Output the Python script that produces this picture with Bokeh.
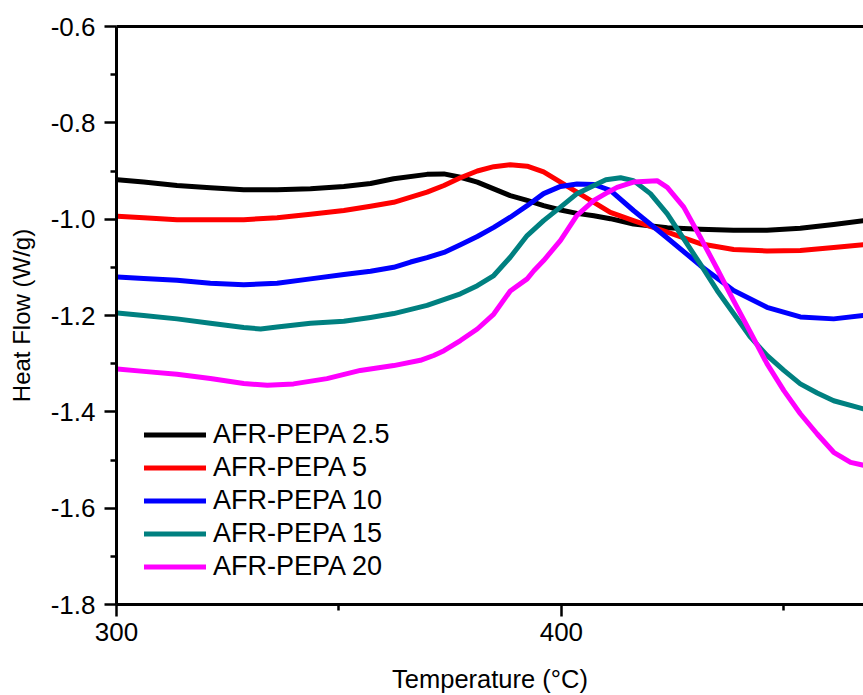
from bokeh.plotting import figure
from bokeh.models import Legend, LegendItem, LinearAxis, FixedTicker, PrintfTickFormatter, Range1d
from bokeh.embed import file_html
from bokeh.resources import INLINE

# ---- data ----
t_25 = [300.2, 306.1, 313.6, 321.1, 328.6, 336.1, 343.6, 351.1, 357.1, 362.3, 369.8, 373.6, 377.3, 381.1, 384.8,
        388.5, 392.3, 396.0, 399.8, 403.5, 407.3, 411.0, 416.2, 423.8, 431.2, 438.7, 446.2, 453.7, 461.2, 467.9]
hf_25 = [-0.918, -0.923, -0.930, -0.935, -0.939, -0.939, -0.937, -0.932, -0.926, -0.916, -0.907, -0.906, -0.913,
         -0.923, -0.937, -0.951, -0.961, -0.972, -0.981, -0.988, -0.993, -0.999, -1.010, -1.018, -1.021, -1.023,
         -1.023, -1.019, -1.011, -1.003]

t_5 = [300.2, 306.1, 313.6, 321.1, 328.6, 336.1, 343.6, 351.1, 357.1, 362.3, 369.8, 373.6, 377.3, 381.1, 384.8,
       388.5, 392.3, 396.0, 399.8, 403.5, 407.3, 411.0, 416.2, 423.8, 431.2, 438.7, 446.2, 453.7, 461.2, 467.9]
hf_5 = [-0.994, -0.997, -1.001, -1.001, -1.001, -0.997, -0.990, -0.982, -0.973, -0.965, -0.944, -0.930, -0.914,
        -0.900, -0.891, -0.887, -0.890, -0.902, -0.923, -0.944, -0.965, -0.986, -1.003, -1.027, -1.051, -1.063,
        -1.066, -1.065, -1.059, -1.053]

t_10 = [300.2, 306.1, 313.6, 321.1, 328.6, 336.1, 343.6, 351.1, 357.1, 362.3, 366.1, 369.8, 373.6, 377.3, 381.1,
        384.8, 388.5, 392.3, 396.0, 399.8, 403.5, 407.3, 411.0, 416.2, 423.8, 431.2, 438.7, 446.2, 453.7, 461.2, 467.9]
hf_10 = [-1.120, -1.123, -1.127, -1.133, -1.136, -1.133, -1.124, -1.115, -1.108, -1.100, -1.089, -1.080, -1.069,
         -1.053, -1.036, -1.017, -0.996, -0.972, -0.947, -0.932, -0.927, -0.928, -0.940, -0.982, -1.039, -1.096,
         -1.148, -1.183, -1.203, -1.207, -1.200]

t_15 = [300.2, 306.1, 313.6, 321.1, 328.6, 332.4, 336.1, 343.6, 351.1, 357.1, 362.3, 369.8, 377.3, 381.1, 384.8,
        388.5, 392.3, 396.0, 399.8, 403.5, 407.3, 410.0, 413.3, 416.2, 420.0, 423.8, 427.5, 431.2, 435.0, 438.7,
        442.5, 446.2, 450.0, 453.7, 457.5, 461.2, 467.9]
hf_15 = [-1.195, -1.200, -1.207, -1.216, -1.225, -1.228, -1.224, -1.216, -1.212, -1.204, -1.196, -1.179, -1.155,
         -1.138, -1.117, -1.079, -1.034, -1.003, -0.975, -0.947, -0.930, -0.918, -0.914, -0.920, -0.947, -0.989,
         -1.041, -1.093, -1.148, -1.196, -1.245, -1.283, -1.314, -1.342, -1.361, -1.377, -1.394]

t_20 = [300.2, 306.1, 313.6, 321.1, 328.6, 333.9, 339.8, 347.3, 354.8, 362.3, 368.3, 371.3, 373.6, 377.3, 381.1,
        384.8, 388.5, 392.3, 393.8, 396.0, 399.8, 403.5, 407.3, 410.5, 412.5, 416.2, 421.5, 423.8, 427.5, 431.2,
        435.0, 438.7, 442.5, 446.2, 450.0, 453.7, 457.5, 461.2, 465.0, 467.9]
hf_20 = [-1.311, -1.316, -1.322, -1.331, -1.341, -1.345, -1.342, -1.331, -1.314, -1.304, -1.293, -1.283, -1.273,
         -1.252, -1.228, -1.197, -1.149, -1.124, -1.107, -1.086, -1.044, -0.992, -0.961, -0.944, -0.934, -0.923,
         -0.920, -0.934, -0.975, -1.037, -1.103, -1.169, -1.235, -1.300, -1.356, -1.404, -1.446, -1.484, -1.505,
         -1.511]

labels = ["AFR-PEPA 2.5", "AFR-PEPA 5", "AFR-PEPA 10", "AFR-PEPA 15", "AFR-PEPA 20"]
colors = ["#000000", "#ff0000", "#0000ff", "#008080", "#ff00ff"]
xs = [t_25, t_5, t_10, t_15, t_20]
ys = [hf_25, hf_5, hf_10, hf_15, hf_20]

x_ticks = [300, 400]
x_minor = [350, 450]
y_ticks = [-1.8, -1.6, -1.4, -1.2, -1.0, -0.8, -0.6]
y_minor = [-1.7, -1.5, -1.3, -1.1, -0.9, -0.7]

FONT = "Liberation Sans"

p = figure(width=863, height=695, x_range=Range1d(300, 467.9), y_range=Range1d(-1.8, -0.6),
           output_backend="svg", toolbar_location=None,
           min_border_left=116, min_border_right=0, min_border_top=26, min_border_bottom=91)
p.outline_line_color = None
p.grid.visible = False
p.background_fill_color = "white"
p.border_fill_color = "white"

renderers = []
for x, y, c in zip(xs, ys, colors):
    r = p.line(x, y, line_color=c, line_width=5, line_join="round", line_cap="round")
    renderers.append(r)

def style_axis(ax):
    ax.axis_line_width = 3
    ax.axis_line_color = "black"
    ax.major_tick_line_width = 2.5
    ax.minor_tick_line_width = 2.5
    ax.major_tick_out = 12
    ax.major_tick_in = 0
    ax.minor_tick_out = 6
    ax.minor_tick_in = 0
    ax.major_label_text_font = FONT
    ax.major_label_text_font_size = "26px"
    ax.major_label_text_color = "black"
    ax.axis_label_text_font = FONT
    ax.axis_label_text_font_style = "normal"
    ax.axis_label_text_color = "black"

xa = p.xaxis[0]
style_axis(xa)
xa.ticker = FixedTicker(ticks=x_ticks, minor_ticks=x_minor)
xa.formatter = PrintfTickFormatter(format="%d")
xa.axis_label = "Temperature (°C)"
xa.axis_label_text_font_size = "25.5px"
xa.major_label_standoff = 6
xa.axis_label_standoff = 21

ya = p.yaxis[0]
style_axis(ya)
ya.ticker = FixedTicker(ticks=y_ticks, minor_ticks=y_minor)
ya.formatter = PrintfTickFormatter(format="%.1f")
ya.axis_label = "Heat Flow (W/g)"
ya.axis_label_text_font_size = "24px"
ya.major_label_standoff = 9
ya.axis_label_standoff = 13

top = LinearAxis(ticker=FixedTicker(ticks=[]), axis_line_width=3, axis_line_color="black",
                 major_tick_out=0, major_tick_in=0, minor_tick_out=0, minor_tick_in=0,
                 major_label_text_font_size="0px")
p.add_layout(top, "above")

legend = Legend(items=[LegendItem(label=l, renderers=[r]) for l, r in zip(labels, renderers)],
                location=(28, 21), glyph_width=62, glyph_height=33, label_height=33, spacing=0,
                padding=0, margin=0, border_line_color=None, background_fill_alpha=0,
                label_standoff=7, label_text_font=FONT, label_text_font_size="27px",
                label_text_color="black")
p.add_layout(legend)

open("out.html", "w").write(file_html(p, INLINE))
